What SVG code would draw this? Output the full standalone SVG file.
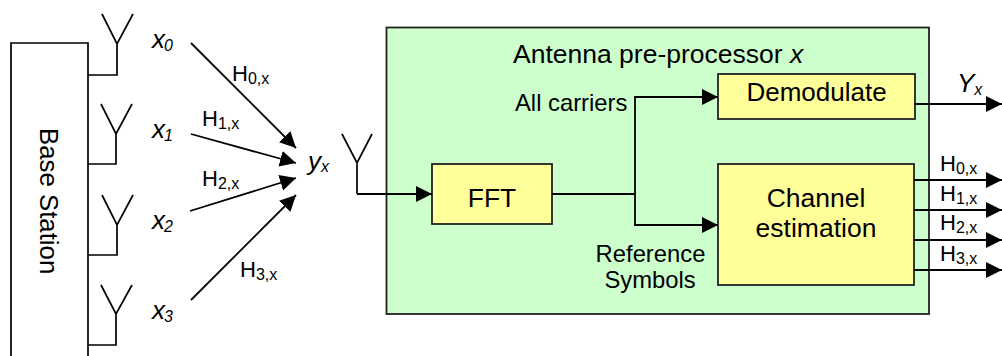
<svg xmlns="http://www.w3.org/2000/svg" width="1002" height="356" viewBox="0 0 1002 356">
<style>
text{font-family:"Liberation Sans",Arial,sans-serif;fill:#000}
.l{fill:none;stroke:#000;stroke-width:1.7}
.c{fill:none;stroke:#000;stroke-width:1.8}
.b{fill:#ffff99;stroke:#222;stroke-width:1.8}
.i{font-style:italic;font-size:26px}
.h{font-size:22px}
.s{font-size:16px}
.is{font-size:16px;font-style:italic}
.m{font-size:26.500px}
.t{font-size:23.800px}
</style>
<defs>
<marker id="a" markerUnits="userSpaceOnUse" markerWidth="17" markerHeight="17" refX="16" refY="8.500" orient="auto"><path d="M0,0.500L16,8.500L0,16.500z" fill="#000"/></marker>
</defs>
<g id="base-station">
<path class="l" d="M11,356V43H88V356"/>
<text transform="translate(40,128) rotate(90)" style="font-size:25.800px">Base Station</text>
</g>
<g id="antenna-0"><path class="l" d="M88,75H117V44M102,14L117,44L133,14"/><text x="152" y="48" class="i">x<tspan class="is" dx="-1" dy="3">0</tspan></text></g>
<g id="antenna-1"><path class="l" d="M88,164H116V134M101,104L116,134L132,104"/><text x="152" y="138" class="i">x<tspan class="is" dx="-1" dy="3">1</tspan></text></g>
<g id="antenna-2"><path class="l" d="M88,255H117V225M102,195L117,225L133,195"/><text x="152" y="229" class="i">x<tspan class="is" dx="-1" dy="3">2</tspan></text></g>
<g id="antenna-3"><path class="l" d="M88,345H116V314M101,285L116,314L132,285"/><text x="152" y="319" class="i">x<tspan class="is" dx="-1" dy="3">3</tspan></text></g>
<g id="receiver">
<path class="l" d="M357,194V163M342,134L357,163L372,134"/>
<text x="308" y="170" class="i">y<tspan class="is" dy="2">x</tspan></text>
</g>
<g id="preprocessor">
<rect x="386.500" y="27.500" width="542.500" height="286.500" fill="#ccffcc" stroke="#222" stroke-width="1.800"/>
<text x="513" y="63" style="font-size:26.500px">Antenna pre-processor <tspan font-style="italic">x</tspan></text>
</g>
<g id="fft"><rect class="b" x="432" y="164" width="120" height="60"/><text x="492" y="207" class="m" text-anchor="middle">FFT</text></g>
<g id="demodulate"><rect class="b" x="718" y="74" width="197" height="45"/><text x="816.500" y="101" class="m" text-anchor="middle" style="font-size:26px">Demodulate</text></g>
<g id="channel-estimation"><rect class="b" x="718" y="164" width="196" height="121"/><text x="816" y="207" class="m" text-anchor="middle">Channel</text><text x="816" y="237" class="m" text-anchor="middle">estimation</text></g>
<g id="connectors">
<path class="c" d="M191,43L296,148" marker-end="url(#a)"/>
<path class="c" d="M191,134L296,163" marker-end="url(#a)"/>
<path class="c" d="M190,211L296,178" marker-end="url(#a)"/>
<path class="c" d="M191,300L296,195" marker-end="url(#a)"/>
<path class="c" d="M357,194H432" marker-end="url(#a)"/>
<path class="c" d="M552,194H635"/>
<path class="c" d="M635,194V97H718" marker-end="url(#a)"/>
<path class="c" d="M635,194V225H718" marker-end="url(#a)"/>
<path class="c" d="M914,104H1002" marker-end="url(#a)"/>
<path class="c" d="M914,180H1002" marker-end="url(#a)"/>
<path class="c" d="M914,210H1002" marker-end="url(#a)"/>
<path class="c" d="M914,240H1002" marker-end="url(#a)"/>
<path class="c" d="M914,270H1002" marker-end="url(#a)"/>
</g>
<g id="labels">
<text x="232" y="81" class="h">H<tspan class="s" dy="3">0,x</tspan></text>
<text x="202" y="126" class="h">H<tspan class="s" dy="3">1,x</tspan></text>
<text x="202" y="186" class="h">H<tspan class="s" dy="3">2,x</tspan></text>
<text x="240" y="277" class="h">H<tspan class="s" dy="3">3,x</tspan></text>
<text x="515" y="111" class="t">All carriers</text>
<text x="650.500" y="262" class="t" text-anchor="middle">Reference</text>
<text x="650" y="288" class="t" text-anchor="middle">Symbols</text>
<text x="957" y="92" class="i">Y<tspan class="is" dy="3">x</tspan></text>
<text x="940" y="171" class="h">H<tspan class="s" dy="3">0,x</tspan></text>
<text x="940" y="201" class="h">H<tspan class="s" dy="3">1,x</tspan></text>
<text x="940" y="230" class="h">H<tspan class="s" dy="3">2,x</tspan></text>
<text x="940" y="261" class="h">H<tspan class="s" dy="3">3,x</tspan></text>
</g>
</svg>
